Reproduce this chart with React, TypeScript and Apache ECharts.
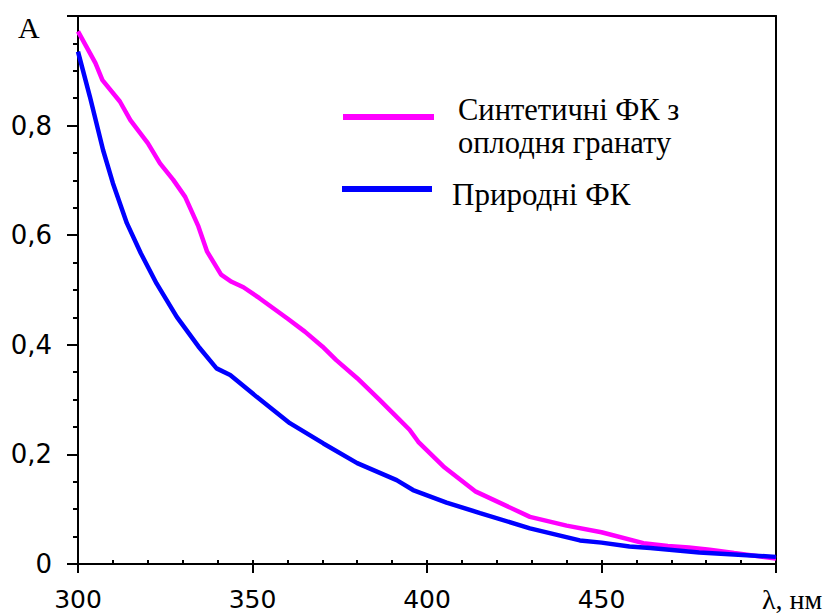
import React, { useEffect, useRef } from "react";
import * as echarts from "echarts";

const synthX = [300, 305, 307, 312, 315, 320, 323.5, 327.3, 330.7, 334.5, 337, 341, 344, 347.4, 352, 360, 365, 370, 374, 380, 386.5, 390.3, 395, 397.5, 404.7, 414, 429.5, 440, 450, 462, 469, 475, 481, 488, 500];
const synthY = [0.972, 0.914, 0.883, 0.844, 0.81, 0.768, 0.731, 0.701, 0.67, 0.616, 0.57, 0.528, 0.515, 0.505, 0.485, 0.448, 0.424, 0.397, 0.372, 0.339, 0.299, 0.275, 0.245, 0.223, 0.178, 0.132, 0.086, 0.07, 0.058, 0.038, 0.033, 0.03, 0.026, 0.02, 0.01];

const naturalX = [300, 303.4, 307.2, 310, 314, 318, 322.5, 328.3, 334.5, 339.7, 343.6, 351.2, 360.7, 370.3, 380, 391.3, 396, 405.6, 415.2, 429.5, 443.8, 450, 458, 464, 478, 500];
const naturalY = [0.935, 0.853, 0.755, 0.695, 0.622, 0.567, 0.512, 0.451, 0.397, 0.357, 0.345, 0.305, 0.257, 0.22, 0.184, 0.153, 0.135, 0.112, 0.093, 0.065, 0.043, 0.039, 0.032, 0.029, 0.021, 0.013];

const seriesNames = ["Синтетичні ФК з оплодня гранату", "Природні ФК"];
const legendLines = ["Синтетичні ФК з\nоплодня гранату", "Природні ФК"];
const yTitle = "A";
const xTitle = "λ, нм";

const X_MIN = 300;
const X_MAX = 500;
const X_STEP = 50;
const Y_MIN = 0;
const Y_MAX = 1;
const Y_STEP = 0.2;

export default function App() {
  const ref = useRef<HTMLDivElement>(null);
  useEffect(() => {
    if (!ref.current) return;
    const chart = echarts.init(ref.current, null, { renderer: "svg" });
    const grid = { left: 78, top: 16, width: 698, height: 548 };
    const sans = "'DejaVu Sans', Verdana, sans-serif";
    const serif = "'Liberation Serif', 'Times New Roman', serif";
    const mkLine = () => ({ show: true, onZero: false, lineStyle: { color: "#000", width: 2 } });
    const noLine = () => ({ show: false, onZero: false });
    const mkX = () => ({ type: "value", min: X_MIN, max: X_MAX, interval: X_STEP, splitLine: { show: false } });
    const mkY = () => ({ type: "value", min: Y_MIN, max: Y_MAX, interval: Y_STEP, splitLine: { show: false } });
    chart.setOption({
      animation: false,
      grid: [{ ...grid }, { ...grid }, { ...grid }],
      xAxis: [
        {
          ...mkX(),
          gridIndex: 0,
          position: "bottom",
          axisLine: mkLine(),
          axisTick: { show: true, inside: true, length: 4, lineStyle: { color: "#000", width: 2 } },
          minorTick: { show: true, splitNumber: 5, length: 4, lineStyle: { color: "#000", width: 2 } },
          axisLabel: { show: false },
        },
        {
          ...mkX(),
          gridIndex: 1,
          position: "bottom",
          axisLine: mkLine(),
          axisTick: { show: true, inside: false, length: 9, lineStyle: { color: "#000", width: 2 } },
          axisLabel: { show: false },
        },
        {
          ...mkX(),
          gridIndex: 2,
          position: "bottom",
          axisLine: noLine(),
          axisTick: { show: false },
          axisLabel: {
            show: true,
            margin: 23,
            color: "#000",
            fontFamily: sans,
            fontSize: 25,
            formatter: (v: number) => (v === X_MAX ? "" : String(v)),
          },
        },
        {
          ...mkX(),
          gridIndex: 0,
          position: "top",
          axisLine: mkLine(),
          axisTick: { show: false },
          axisLabel: { show: false },
        },
      ],
      yAxis: [
        {
          ...mkY(),
          gridIndex: 0,
          position: "left",
          axisLine: mkLine(),
          axisTick: { show: false },
          minorTick: { show: true, splitNumber: 4, length: 5, lineStyle: { color: "#000", width: 2 } },
          axisLabel: { show: false },
        },
        {
          ...mkY(),
          gridIndex: 1,
          position: "left",
          axisLine: mkLine(),
          axisTick: { show: true, inside: false, length: 11, lineStyle: { color: "#000", width: 2 } },
          axisLabel: { show: false },
        },
        {
          ...mkY(),
          gridIndex: 2,
          position: "left",
          axisLine: noLine(),
          axisTick: { show: false },
          axisLabel: {
            show: true,
            margin: 26,
            color: "#000",
            fontFamily: sans,
            fontSize: 26,
            formatter: (v: number) => (v === Y_MAX ? "" : String(Math.round(v * 10) / 10).replace(".", ",")),
          },
        },
        {
          ...mkY(),
          gridIndex: 0,
          position: "right",
          axisLine: mkLine(),
          axisTick: { show: false },
          axisLabel: { show: false },
        },
      ],
      series: [
        {
          name: seriesNames[0],
          type: "line",
          xAxisIndex: 0,
          yAxisIndex: 0,
          showSymbol: false,
          symbol: "none",
          data: synthX.map((x, i) => [x, synthY[i]]),
          lineStyle: { color: "#FF00FF", width: 4.5 },
          itemStyle: { color: "#FF00FF" },
        },
        {
          name: seriesNames[1],
          type: "line",
          xAxisIndex: 0,
          yAxisIndex: 0,
          showSymbol: false,
          symbol: "none",
          data: naturalX.map((x, i) => [x, naturalY[i]]),
          lineStyle: { color: "#0000FF", width: 4.5 },
          itemStyle: { color: "#0000FF" },
        },
      ],
      graphic: [
        { type: "line", shape: { x1: 343, y1: 117, x2: 434, y2: 117 }, style: { stroke: "#FF00FF", lineWidth: 6 } },
        { type: "line", shape: { x1: 342, y1: 189, x2: 432, y2: 189 }, style: { stroke: "#0000FF", lineWidth: 6 } },
        { type: "text", x: 458, y: 93, style: { text: legendLines[0], font: `30.5px ${serif}`, lineHeight: 33, fill: "#000", verticalAlign: "top" } },
        { type: "text", x: 452, y: 194, style: { text: legendLines[1], font: `31px ${serif}`, fill: "#000", verticalAlign: "middle" } },
        { type: "text", x: 18, y: 27, style: { text: yTitle, font: `30px ${serif}`, fill: "#000", verticalAlign: "middle" } },
        { type: "text", x: 762, y: 599, style: { text: xTitle, font: `28px ${serif}`, fill: "#000", verticalAlign: "middle" } },
      ],
    });
    return () => chart.dispose();
  }, []);
  return <div ref={ref} style={{ position: "fixed", left: 0, top: 0, width: 834, height: 614, background: "#fff" }} />;
}
